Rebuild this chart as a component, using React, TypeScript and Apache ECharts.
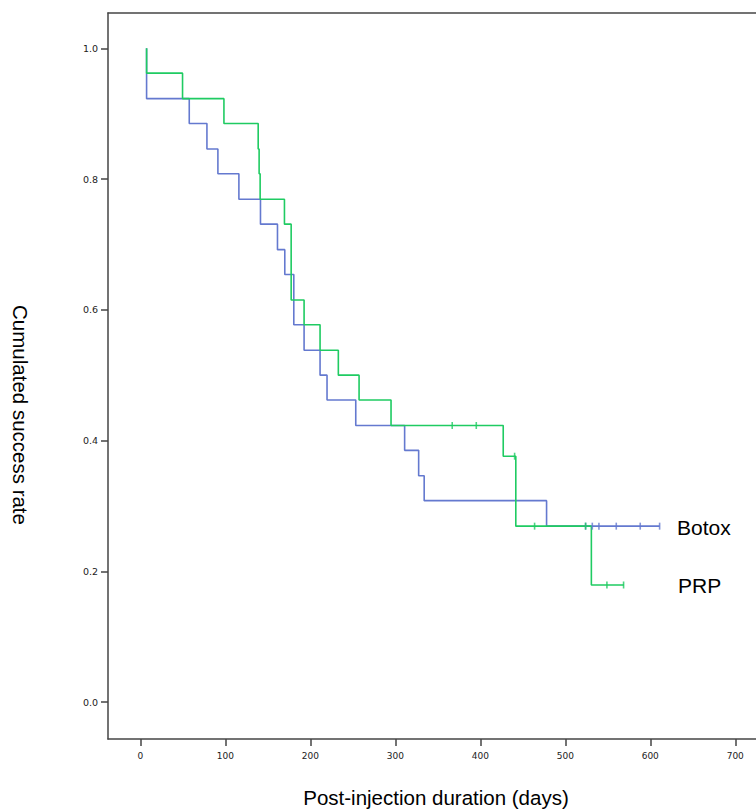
import React, { useEffect, useRef } from "react";
import * as echarts from "echarts";

// Kaplan-Meier data (time in days, cumulative success after each drop)
const botoxTimes = [7.4, 57.6, 78.4, 91.3, 116, 141.4, 161.4, 170, 180.6, 192.7, 211.5, 219.7, 253.5, 311, 327.5, 334, 478];
const botoxSurv = [0.923, 0.885, 0.846, 0.808, 0.769, 0.731, 0.692, 0.654, 0.577, 0.538, 0.5, 0.462, 0.423, 0.385, 0.346, 0.308, 0.269];
const botoxEnd = 611;
const botoxCensored = [523.9, 531.8, 539.6, 560, 588.2, 611];

const prpTimes = [7.4, 49.7, 98.4, 138.7, 139.8, 141, 169.6, 177.5, 192.7, 211.5, 233, 257.4, 295, 427, 441.8, 530.7];
const prpSurv = [0.962, 0.923, 0.885, 0.846, 0.808, 0.769, 0.731, 0.615, 0.577, 0.538, 0.5, 0.462, 0.423, 0.376, 0.269, 0.179];
const prpEnd = 569;
const prpCensored = [367, 395.3, 440.4, 463.9, 523.9, 549, 568.6];

const seriesNames = ["Botox", "PRP"];
const xTicks = [0, 100, 200, 300, 400, 500, 600, 700];
const yTicks = [0, 0.2, 0.4, 0.6, 0.8, 1.0];
const xAxisTitle = "Post-injection duration (days)";
const yAxisTitle = "Cumulated success rate";

const BLUE = "#6479cf";
const GREEN = "#1fcb62";
const AXIS = "#454545";

function stepLine(times: number[], surv: number[], end: number) {
  const pts: number[][] = [[times[0], 1.0]];
  times.forEach((t, i) => pts.push([t, surv[i]]));
  pts.push([end, surv[surv.length - 1]]);
  return pts;
}

function survAt(times: number[], surv: number[], t: number) {
  let s = 1;
  for (let i = 0; i < times.length; i++) if (times[i] <= t) s = surv[i];
  return s;
}

export default function App() {
  const ref = useRef<HTMLDivElement>(null);
  useEffect(() => {
    if (!ref.current) return;
    const chart = echarts.init(ref.current, undefined, { renderer: "svg" });
    const tickFont = { fontFamily: "DejaVu Sans", fontSize: 9, color: "#222" };
    const axisLineStyle = { color: AXIS, width: 1.5 };
    chart.setOption({
      animation: false,
      backgroundColor: "#fff",
      grid: {
        left: 108,
        top: 13,
        right: 0,
        height: 726,
        show: false,
      },
      xAxis: [
        {
          type: "value",
          position: "bottom",
          min: -38,
          max: 724.4,
          axisLine: { show: true, onZero: false, lineStyle: axisLineStyle },
          axisTick: { show: true, customValues: xTicks, length: 7, lineStyle: axisLineStyle },
          axisLabel: { customValues: xTicks, margin: 12, ...tickFont },
          splitLine: { show: false },
        },
        {
          type: "value",
          position: "top",
          min: -38,
          max: 724.4,
          axisLine: { show: true, onZero: false, lineStyle: axisLineStyle },
          axisTick: { show: false },
          axisLabel: { show: false },
          splitLine: { show: false },
        },
      ],
      yAxis: {
        type: "value",
        min: -0.0566,
        max: 1.054,
        axisLine: { show: true, onZero: false, lineStyle: axisLineStyle },
        axisTick: { show: true, customValues: yTicks, length: 7, lineStyle: axisLineStyle },
        axisLabel: {
          customValues: yTicks,
          margin: 10,
          formatter: (v: number) => v.toFixed(1),
          ...tickFont,
          fontSize: 9.5,
        },
        splitLine: { show: false },
      },
      series: [
        {
          name: seriesNames[0],
          type: "line",
          step: "end",
          showSymbol: false,
          data: stepLine(botoxTimes, botoxSurv, botoxEnd),
          lineStyle: { color: BLUE, width: 1.6 },
          z: 2,
        },
        {
          name: seriesNames[1],
          type: "line",
          step: "end",
          showSymbol: false,
          data: stepLine(prpTimes, prpSurv, prpEnd),
          lineStyle: { color: GREEN, width: 1.6 },
          z: 3,
        },
        {
          name: seriesNames[0] + " censored",
          type: "scatter",
          symbol: "rect",
          symbolSize: [1.6, 7],
          itemStyle: { color: BLUE },
          data: botoxCensored.map((t) => [t, survAt(botoxTimes, botoxSurv, t)]),
          z: 4,
        },
        {
          name: seriesNames[1] + " censored",
          type: "scatter",
          symbol: "rect",
          symbolSize: [1.6, 7],
          itemStyle: { color: GREEN },
          data: prpCensored.map((t) => [t, survAt(prpTimes, prpSurv, t)]),
          z: 5,
        },
      ],
      graphic: [
        {
          type: "text",
          x: 677,
          y: 527,
          style: {
            text: seriesNames[0],
            font: "21px 'Liberation Sans', Arial, sans-serif",
            fill: "#000",
            textAlign: "left",
            textVerticalAlign: "middle",
          },
        },
        {
          type: "text",
          x: 678,
          y: 585,
          style: {
            text: seriesNames[1],
            font: "21px 'Liberation Sans', Arial, sans-serif",
            fill: "#000",
            textAlign: "left",
            textVerticalAlign: "middle",
          },
        },
        {
          type: "text",
          x: 436,
          y: 797,
          style: {
            text: xAxisTitle,
            font: "20.5px 'Liberation Sans', Arial, sans-serif",
            fill: "#000",
            textAlign: "center",
            textVerticalAlign: "middle",
          },
        },
        {
          type: "text",
          x: 20,
          y: 415,
          rotation: -Math.PI / 2,
          style: {
            text: yAxisTitle,
            font: "20.5px 'Liberation Sans', Arial, sans-serif",
            fill: "#000",
            textAlign: "center",
            textVerticalAlign: "middle",
          },
        },
      ],
    });
    return () => chart.dispose();
  }, []);
  return (
    <div
      ref={ref}
      style={{ position: "fixed", left: 0, top: 0, width: 756, height: 810, background: "#fff" }}
    />
  );
}
